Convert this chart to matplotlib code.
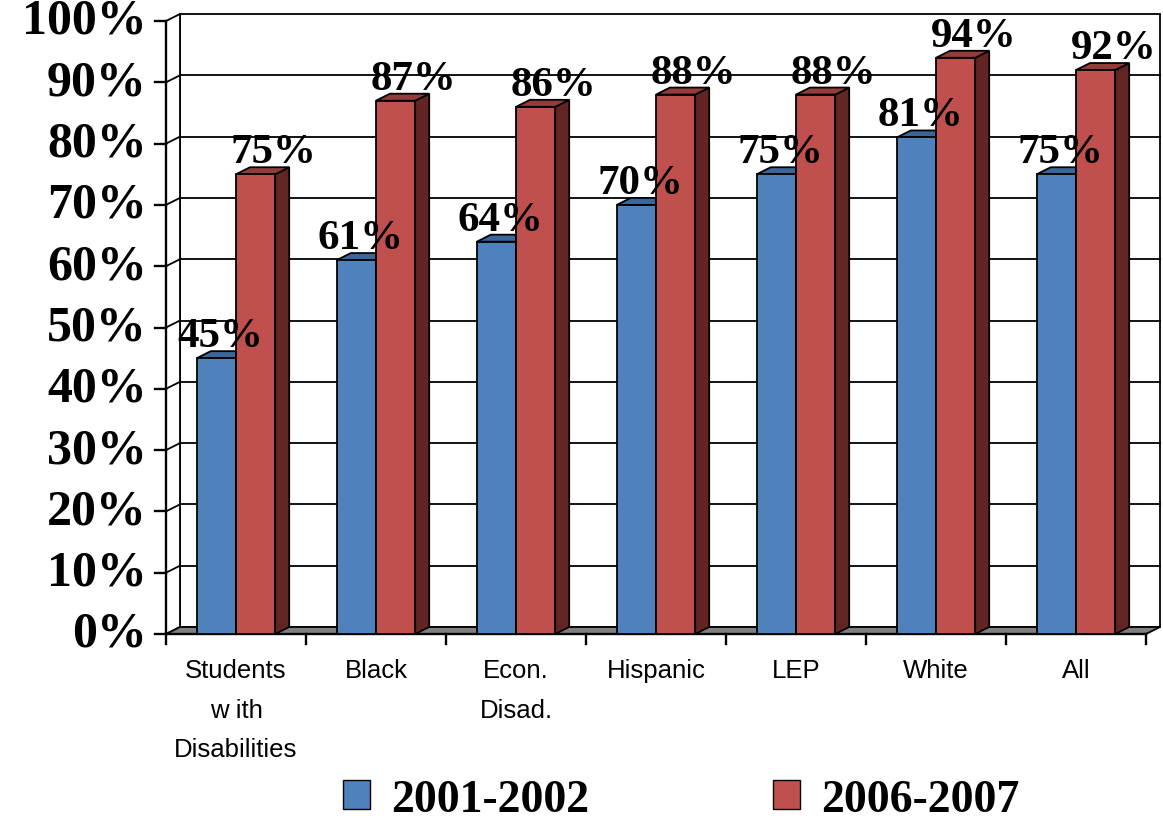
import matplotlib
matplotlib.use("Agg")
import matplotlib.pyplot as plt
import numpy as np
from matplotlib.patches import Polygon, Patch

categories = ["Students\nw ith\nDisabilities", "Black", "Econ.\nDisad.", "Hispanic",
              "LEP", "White", "All"]
series_names = ["2001-2002", "2006-2007"]
vals_0102 = [45, 61, 64, 70, 75, 81, 75]
vals_0607 = [75, 87, 86, 88, 88, 94, 92]
y_ticks = [0, 10, 20, 30, 40, 50, 60, 70, 80, 90, 100]

front_col = ["#4F81BD", "#C0504D"]
top_col = ["#3B6699", "#933D3B"]
side_col = ["#2C4D75", "#632523"]

W, H = 1163, 828
fig = plt.figure(figsize=(W / 100, H / 100), dpi=100)
# front plane of the 3D box: x 166..1146 px, y 635..22 px
ax = fig.add_axes([166 / W, (H - 635) / H, 980 / W, 613 / H])
ax.set_xlim(0, 7)
ax.set_ylim(0, 100)
ax.axis("off")

pxx = 980 / 7.0   # px per category unit
pxy = 613 / 100.0  # px per percent
dx = 14 / pxx      # depth offset
dy = 7 / pxy
lw = 1.3
serif = "Liberation Serif"

# walls
ax.add_patch(Polygon([(dx, dy), (7 + dx, dy), (7 + dx, 100 + dy), (dx, 100 + dy)],
                     closed=True, fc="white", ec="black", lw=lw, clip_on=False, zorder=1))
ax.add_patch(Polygon([(0, 0), (dx, dy), (dx, 100 + dy), (0, 100)],
                     closed=True, fc="white", ec="black", lw=lw, clip_on=False, zorder=1))
for v in y_ticks[1:-1]:
    ax.plot([dx, 7 + dx], [v + dy, v + dy], color="black", lw=lw, clip_on=False, zorder=2)
    ax.plot([0, dx], [v, v + dy], color="black", lw=lw, clip_on=False, zorder=2)

# floor
ax.add_patch(Polygon([(0, 0), (dx, dy), (7 + dx, dy), (7, 0)],
                     closed=True, fc="#808080", ec="black", lw=lw, clip_on=False, zorder=2))

# axis lines and ticks
ax.plot([0, 0], [0, 100], color="black", lw=lw * 1.3, clip_on=False, zorder=3)
ax.plot([0, 7], [0, 0], color="black", lw=lw * 1.3, clip_on=False, zorder=3)
for v in y_ticks:
    ax.plot([-11 / pxx, 0], [v, v], color="black", lw=lw * 1.3, clip_on=False, zorder=3)
    ax.text(-19 / pxx, v, f"{v}%", ha="right", va="center", fontsize=36,
            fontweight="bold", family=serif)
for i in range(8):
    ax.plot([i, i], [0, -10 / pxy], color="black", lw=lw * 1.3, clip_on=False, zorder=3)

x = np.arange(len(categories)) + 0.5
bw = 0.28
series = [vals_0102, vals_0607]
label_shift = [4 / pxx, 18 / pxx]

for i in range(len(categories)):
    for s in range(2):
        v = series[s][i]
        x0 = x[i] - bw if s == 0 else x[i]
        x1 = x0 + bw
        z = 4 + i * 2 + s
        ax.add_patch(Polygon([(x1, 0), (x1 + dx, dy), (x1 + dx, v + dy), (x1, v)],
                             closed=True, fc=side_col[s], ec="black", lw=lw,
                             clip_on=False, zorder=z))
        ax.add_patch(Polygon([(x0, v), (x0 + dx, v + dy), (x1 + dx, v + dy), (x1, v)],
                             closed=True, fc=top_col[s], ec="black", lw=lw,
                             clip_on=False, zorder=z))
        ax.bar(x0, v, width=bw, align="edge", color=front_col[s], edgecolor="black",
               lw=lw, clip_on=False, zorder=z)

for s in range(2):
    for i, v in enumerate(series[s]):
        xc = x[i] - bw / 2 if s == 0 else x[i] + bw / 2
        ax.text(xc + label_shift[s], v + dy + 5 / pxy, f"{v}%", ha="center",
                va="baseline", fontsize=31, fontweight="bold", family=serif, zorder=30)

for i, c in enumerate(categories):
    ax.text(x[i], -24 / pxy, c, ha="center", va="top", fontsize=18.5,
            family="Liberation Sans", linespacing=1.82)

handles = [Patch(facecolor=front_col[k], edgecolor="black", lw=1.0) for k in range(2)]
fig.legend(handles, series_names, loc="center", bbox_to_anchor=(681 / W, 1 - 801 / H),
           ncol=2, frameon=False, handlelength=0.6, handleheight=0.6,
           handletextpad=0.45, columnspacing=4.0, borderpad=0.0,
           prop={"family": serif, "weight": "bold", "size": 33})

fig.savefig("out.png", dpi=100)
